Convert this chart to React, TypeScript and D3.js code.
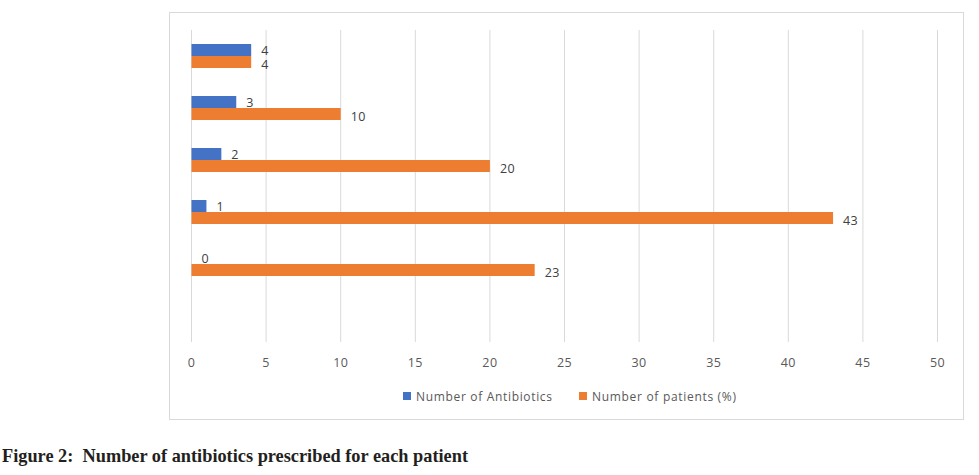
import React from "react";
import * as d3 from "d3";

const categories = ["4", "3", "2", "1", "0", ""];
const antibiotics = [4, 3, 2, 1, 0, null];
const patients = [4, 10, 20, 43, 23, null];
const seriesNames = ["Number of Antibiotics", "Number of patients (%)"];
const seriesColors = ["#4472C4", "#ED7D31"];
const xTicks = [0, 5, 10, 15, 20, 25, 30, 35, 40, 45, 50];
const caption = "Figure 2:  Number of antibiotics prescribed for each patient";

export default function App() {
  const W = 979, H = 475;
  const x = d3.scaleLinear().domain([0, 50]).range([191.5, 937.5]);
  const y = d3.scaleBand().domain(categories).range([30, 342]).paddingInner(0).paddingOuter(0);
  const bw = y.bandwidth();
  const p = (bw / 12 - 2) / 2;
  const yi = d3.scaleBand().domain(seriesNames).range([0, bw]).paddingInner(0).paddingOuter(p);
  const font = "'Open Sans', 'DejaVu Sans', sans-serif";
  const series = [antibiotics, patients];
  const legendX = [403, 579];
  const legendLen = [136, 144];

  return (
    <div style={{ position: "absolute", left: 0, top: 0 }}>
      <svg width={W} height={H} style={{ display: "block" }}>
        <rect x={0} y={0} width={W} height={H} fill="#fff" />
        <rect x={169.5} y={12.5} width={794} height={407} fill="#fff" stroke="#d9d9d9" strokeWidth={1} />
        {xTicks.map((t) => (
          <g key={t}>
            <line x1={x(t)} x2={x(t)} y1={30} y2={342} stroke="#d9d9d9" strokeWidth={1} />
            <text x={x(t)} y={362} textAnchor="middle" dominantBaseline="central" fontFamily={font} fontSize={12.5} letterSpacing={0.4} fill="#595959">
              {t}
            </text>
          </g>
        ))}
        {series.map((vals, si) =>
          categories.map((c, ci) => {
            const v = vals[ci];
            if (v === null || v === undefined) return null;
            const yy = (y(c) as number) + (yi(seriesNames[si]) as number);
            const h = yi.bandwidth();
            return (
              <g key={si + "-" + ci}>
                <rect x={x(0)} y={yy} width={x(v) - x(0)} height={h} fill={seriesColors[si]} />
                <text x={x(v) + 10} y={yy + h / 2 + (si === 0 ? 0.5 : 2)} dominantBaseline="central" fontFamily={font} fontSize={12.5} letterSpacing={0.4} fill="#404040">
                  {v}
                </text>
              </g>
            );
          })
        )}
        {seriesNames.map((s, i) => (
          <g key={s}>
            <rect x={legendX[i]} y={392} width={8} height={8} fill={seriesColors[i]} />
            <text x={legendX[i] + 13} y={396} dominantBaseline="central" fontFamily={font} fontSize={12} fill="#595959" textLength={legendLen[i]} lengthAdjust="spacing">
              {s}
            </text>
          </g>
        ))}
        <text x={2} y={462} fontFamily="'Liberation Serif', 'DejaVu Serif', serif" fontWeight="bold" fontSize={19} fill="#231f20" textLength={466} lengthAdjust="spacingAndGlyphs" style={{ whiteSpace: "pre" }}>
          {caption}
        </text>
      </svg>
    </div>
  );
}
